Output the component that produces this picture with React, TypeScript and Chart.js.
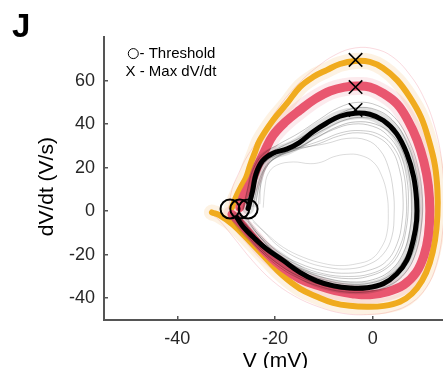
import React, { useEffect, useRef } from "react";
import { Chart, registerables } from "chart.js";

Chart.register(...registerables);

type P = [number, number];

// axis ticks
const xTicks = [-40, -20, 0];
const yTicks = [-40, -20, 0, 20, 40, 60];

// thick average traces: [V (mV), dV/dt (V/s)]
const orangeTrace: P[] = [
  [-28.8, 1.7], [-28.0, 6.3], [-27.0, 10.9], [-25.9, 15.5], [-25.1, 21.0], [-24.1, 27.0],
  [-23.1, 32.6], [-20.4, 41.8], [-17.5, 49.6], [-14.9, 57.0], [-12.2, 61.6], [-9.4, 64.8],
  [-6.7, 67.6], [-3.6, 69.0], [-0.6, 68.6], [2.1, 65.8], [5.0, 60.2], [7.6, 52.4],
  [9.9, 43.2], [11.5, 32.6], [12.75, 21.0], [13.26, 9.5], [13.26, -2.0], [12.75, -13.5],
  [11.7, -23.7], [10.1, -32.0], [8.0, -38.0], [5.6, -41.6], [2.3, -43.5], [-1.2, -43.9],
  [-4.65, -43.5], [-8.1, -42.1], [-11.4, -39.3], [-14.9, -35.6], [-18.4, -29.6], [-21.6, -22.3],
  [-25.1, -14.0], [-28.6, -6.2], [-31.3, -2.0], [-32.9, -0.6],
];

const pinkTrace: P[] = [
  [-27.2, 1.7], [-26.55, 6.3], [-25.5, 10.9], [-24.5, 15.1], [-23.5, 21.0], [-22.05, 27.9],
  [-20.4, 34.8], [-17.95, 40.8], [-14.9, 46.4], [-11.8, 51.5], [-8.7, 55.2], [-5.7, 57.0],
  [-3.2, 57.5], [-0.55, 57.0], [2.1, 54.2], [5.0, 49.2], [7.2, 41.8], [9.1, 32.6],
  [10.5, 22.5], [11.4, 11.8], [11.7, 0.3], [11.4, -11.2], [10.5, -20.4], [8.9, -28.2],
  [6.4, -33.8], [3.1, -37.0], [-0.55, -38.4], [-4.2, -37.9], [-7.7, -36.5], [-11.2, -34.2],
  [-14.9, -31.0], [-18.4, -25.9], [-21.6, -19.5], [-24.7, -11.7], [-27.2, -5.2], [-28.8, -1.5],
];

const blackTrace: P[] = [
  [-25.5, 1.2], [-24.6, 9], [-23.9, 17], [-22.6, 23], [-20.5, 26.5], [-17.5, 28.6],
  [-15, 31.5], [-12.2, 36.5], [-9.4, 40.5], [-6.7, 43.6], [-3.6, 45], [-0.6, 44.5],
  [2.2, 41.6], [4.9, 35.6], [7, 26.4], [8.4, 15.7], [9, 4.9], [9, -4.3],
  [8.3, -13.5], [7, -22.5], [4.9, -28.9], [2.2, -33.3], [-1.2, -35.2], [-4.6, -35.3],
  [-8, -34.3], [-11.5, -32], [-14.9, -28.1], [-18.3, -22.7], [-21.7, -17.4], [-24.4, -12],
  [-26.5, -7.2], [-27.8, -3],
];

// individual thin traces
const grayTrace1: P[] = [
  [-22.4, 1.8], [-22.05, 11.1], [-21.4, 17.2], [-19.65, 21.1], [-16.25, 22.6], [-12.8, 21.8],
  [-10.4, 22.6], [-8.1, 24.9], [-5.3, 26.1], [-2.6, 25.7], [0.1, 22.6], [1.8, 16.5],
  [2.9, 8.0], [3.2, -1.2], [2.9, -10.4], [1.8, -16.6], [-0.2, -21.9], [-3.3, -24.2],
  [-6.7, -25.0], [-10.1, -24.0], [-14.2, -21.2], [-18.3, -16.6], [-21.7, -10.4], [-24.4, -5.1],
];
const grayTrace2: P[] = [
  [-23.1, 3.4], [-22.7, 15.7], [-21.0, 23.3], [-17.6, 27.9], [-13.5, 29.5], [-9.4, 31.1],
  [-5.3, 33.4], [-1.2, 32.6], [1.5, 28.0], [3.2, 20.3], [4.2, 9.5], [4.4, -1.2],
  [3.9, -12.0], [2.2, -19.6], [-0.55, -24.2], [-4.65, -26.5], [-9.4, -25.8], [-14.2, -22.7],
  [-19.0, -16.6], [-23.1, -7.4], [-25.1, -2.8],
];
const grayTrace3: P[] = [
  [-24.5, 2], [-23.5, 12], [-22, 20], [-19.5, 25], [-16, 28], [-12, 33], [-8, 37.5],
  [-4, 40], [0, 39], [3, 35], [5.5, 27], [7, 15], [7.3, 3], [6.8, -9], [5.5, -19],
  [3, -26], [-1, -30], [-5, -31], [-10, -29.5], [-15, -26], [-19.5, -20], [-23, -12],
  [-25.5, -5], [-27, -1],
];
const grayTrace4: P[] = [
  [-24, 2], [-23.2, 12], [-21.5, 21], [-18.5, 26], [-15, 28.5], [-11, 31], [-7, 34.5],
  [-3, 36], [1, 34], [3.8, 28.5], [5.5, 19], [6.2, 7], [6, -5], [5, -15], [2.8, -23],
  [-0.5, -27], [-5, -28.5], [-10, -27.5], [-15, -24], [-19.5, -18.5], [-23, -11], [-25.5, -4],
];
const grayTrace5: P[] = [
  [-26.5, 1], [-25.5, 11], [-24.5, 19], [-22.5, 26], [-19, 31], [-15, 36], [-11, 42],
  [-7, 47.5], [-3, 50], [1, 48.5], [4.5, 43], [7.3, 33], [9.3, 20], [10.2, 6], [10, -6],
  [9, -18], [6.8, -28], [3.5, -34], [-1, -37], [-6, -37], [-11, -34.5], [-15.5, -30.5],
  [-19.5, -25], [-23, -18], [-26, -10], [-28, -3],
];
const grayTrace6: P[] = [
  [-25.5, 1], [-24.5, 10], [-23.5, 19], [-21, 25], [-17.5, 28.5], [-13.5, 33], [-9.5, 38],
  [-5.5, 42], [-2, 43], [2, 41], [5, 35], [7.3, 25], [8.5, 12], [8.7, 0], [8, -12],
  [6.5, -22], [3.5, -29.5], [-0.5, -33], [-5, -33.5], [-10, -31.5], [-14.5, -28], [-19, -22],
  [-23, -14], [-26, -6],
];
const grayTrace7: P[] = [
  [-25, 1], [-24.2, 10], [-23.2, 18], [-21.5, 23.5], [-18.5, 26.5], [-15, 29.5], [-11, 34.5],
  [-7, 39], [-3.5, 41], [0.5, 40], [3.8, 35.5], [6.2, 27], [7.6, 15], [8, 3], [7.6, -9],
  [6.3, -19], [3.8, -27], [0, -31.5], [-4.5, -32.5], [-9.5, -30.8], [-14, -27.5], [-18.5, -22],
  [-22.5, -15], [-25.8, -7], [-27.3, -2],
];
const grayTrace8: P[] = [
  [-26, 1], [-25, 10], [-24.2, 18], [-22.2, 25], [-18.8, 29.5], [-15, 33.5], [-11, 39],
  [-7, 44.5], [-3.2, 47.5], [0.8, 46.5], [4.4, 41], [7, 31.5], [8.8, 19], [9.6, 5], [9.4, -7],
  [8.4, -18], [6.2, -27], [3, -32.5], [-1.2, -35.8], [-6, -36], [-11, -33.5], [-15.5, -29.5],
  [-19.5, -24], [-23, -17], [-26, -9], [-27.8, -2.5],
];
const grayTrace9: P[] = [
  [-23.5, 2], [-22.8, 13], [-21.2, 22], [-18, 27], [-14.5, 29.5], [-10.5, 32.5], [-6.5, 36],
  [-2.5, 37], [1.5, 35], [4.4, 29], [6.2, 19], [6.9, 6], [6.7, -6], [5.6, -16], [3.2, -24.5],
  [-0.5, -28.8], [-5, -30], [-10, -28.8], [-15, -25], [-19.5, -19.5], [-23, -12], [-25.5, -4.5],
];
const faintPinkTrace: P[] = [
  [-29.5, 1], [-28.8, 10], [-27.5, 17], [-26, 24], [-24, 31], [-21.5, 40], [-18.5, 50],
  [-15, 59], [-11.5, 66], [-7.5, 72], [-3.5, 75], [0.5, 74.5], [4, 71], [7.5, 63],
  [10.5, 52], [12.8, 38], [14.2, 22], [14.6, 5], [14.3, -10], [13, -25], [11, -35],
  [8, -42], [4, -46], [-1, -47.5], [-6, -47], [-11, -44], [-16, -39], [-20.5, -32],
  [-24.5, -23], [-28.5, -12], [-31.5, -4], [-33.5, -0.5],
];

// markers
const thresholdV = [-29.2, -27.2, -25.5];
const thresholdDvdt = [1, 1, 1];
const maxV = [-3.5, -3.5, -3.5];
const maxDvdt = [69.5, 57, 46.5];

const FONT = '"Liberation Sans", Arial, Helvetica, sans-serif';
const ORANGE = "#F0AB1E";
const PINK = "#E9566F";

const toXY = (arr: P[]) => arr.map(([x, y]) => ({ x, y }));

const lineDs = (data: P[], color: string, width: number, order: number) => ({
  data: toXY(data),
  showLine: true,
  borderColor: color,
  borderWidth: width,
  pointRadius: 0,
  pointHoverRadius: 0,
  tension: 0.4,
  fill: false,
  order,
  borderCapStyle: "round" as const,
  borderJoinStyle: "round" as const,
});

const textPlugin = {
  id: "customTexts",
  afterDraw(chart: any) {
    const { ctx, chartArea } = chart;
    ctx.save();
    ctx.fillStyle = "#000";
    ctx.textAlign = "left";
    ctx.textBaseline = "alphabetic";
    ctx.font = `bold 33px ${FONT}`;
    ctx.fillText("J", 12, 36.5);

    ctx.font = `15px ${FONT}`;
    ctx.strokeStyle = "#000";
    ctx.lineWidth = 1;
    ctx.beginPath();
    ctx.arc(133.3, 53.6, 5, 0, Math.PI * 2);
    ctx.stroke();
    ctx.fillText("- Threshold", 139.5, 58.3);
    ctx.fillText("X - Max dV/dt", 125.5, 76);

    ctx.font = `21px ${FONT}`;
    ctx.textAlign = "center";
    ctx.fillText("V (mV)", (chartArea.left + chartArea.right) / 2 + 2, 366.7);

    ctx.translate(53, 186.7);
    ctx.rotate(-Math.PI / 2);
    ctx.fillText("dV/dt (V/s)", 0, 0);
    ctx.restore();
  },
};

export default function App() {
  const ref = useRef<HTMLCanvasElement | null>(null);
  useEffect(() => {
    if (!ref.current) return;
    const chart = new Chart(ref.current, {
      type: "scatter",
      data: {
        datasets: [
          {
            data: thresholdV.map((x, i) => ({ x, y: thresholdDvdt[i] })),
            pointStyle: "circle",
            pointRadius: 9.5,
            pointBorderWidth: 2,
            pointBorderColor: "#000",
            pointBackgroundColor: "rgba(0,0,0,0)",
            showLine: false,
            order: 0,
          } as any,
          {
            data: maxV.map((x, i) => ({ x, y: maxDvdt[i] })),
            pointStyle: "crossRot",
            pointRadius: 9.5,
            pointBorderWidth: 1.6,
            pointBorderColor: "#000",
            showLine: false,
            order: 0,
          } as any,
          lineDs(blackTrace, "#000", 5, 1),
          lineDs(grayTrace1, "rgba(0,0,0,0.14)", 1, 2),
          lineDs(grayTrace2, "rgba(0,0,0,0.16)", 1, 2),
          lineDs(grayTrace3, "rgba(0,0,0,0.22)", 1, 2),
          lineDs(grayTrace4, "rgba(0,0,0,0.2)", 1, 2),
          lineDs(grayTrace5, "rgba(0,0,0,0.22)", 1, 2),
          lineDs(grayTrace6, "rgba(0,0,0,0.25)", 1, 2),
          lineDs(grayTrace7, "rgba(0,0,0,0.25)", 1, 2),
          lineDs(grayTrace8, "rgba(0,0,0,0.25)", 1, 2),
          lineDs(grayTrace9, "rgba(0,0,0,0.2)", 1, 2),
          lineDs(blackTrace, "rgba(0,0,0,0.12)", 12, 2.5),
          lineDs(pinkTrace, PINK, 9, 3),
          lineDs(orangeTrace, ORANGE, 6, 4),
          lineDs(pinkTrace, "rgba(233,86,111,0.12)", 18, 5),
          lineDs(orangeTrace, "rgba(240,160,60,0.14)", 16, 5),
          lineDs(faintPinkTrace, "rgba(233,86,111,0.22)", 1, 5),
        ],
      },
      options: {
        animation: false,
        responsive: false,
        devicePixelRatio: 1,
        events: [],
        layout: { autoPadding: false, padding: { top: 37, right: 0, left: 0, bottom: 0 } },
        plugins: { legend: { display: false }, tooltip: { enabled: false } },
        scales: {
          x: {
            type: "linear",
            min: -55,
            max: 14.4,
            afterFit: (s: any) => {
              s.height = 48;
            },
            afterBuildTicks: (s: any) => {
              s.ticks = xTicks.map((v) => ({ value: v }));
            },
            ticks: {
              font: { family: FONT, size: 18 },
              color: "#262626",
              padding: 12,
              maxRotation: 0,
            },
            grid: {
              display: true,
              drawOnChartArea: false,
              drawTicks: true,
              tickLength: -4,
              color: "#555",
              lineWidth: 1.5,
            },
            border: { display: true, color: "#555", width: 2 },
          },
          y: {
            type: "linear",
            min: -50,
            max: 80,
            afterFit: (s: any) => {
              s.width = 104;
            },
            afterBuildTicks: (s: any) => {
              s.ticks = yTicks.map((v) => ({ value: v }));
            },
            ticks: {
              font: { family: FONT, size: 18 },
              color: "#262626",
              padding: 13,
            },
            grid: {
              display: true,
              drawOnChartArea: false,
              drawTicks: true,
              tickLength: -4,
              color: "#555",
              lineWidth: 1.5,
            },
            border: { display: true, color: "#555", width: 2 },
          },
        },
      },
      plugins: [textPlugin],
    });
    return () => chart.destroy();
  }, []);

  return (
    <div style={{ position: "absolute", left: 0, top: 0, width: 443, height: 368 }}>
      <canvas ref={ref} width={443} height={368} style={{ display: "block" }} />
    </div>
  );
}
